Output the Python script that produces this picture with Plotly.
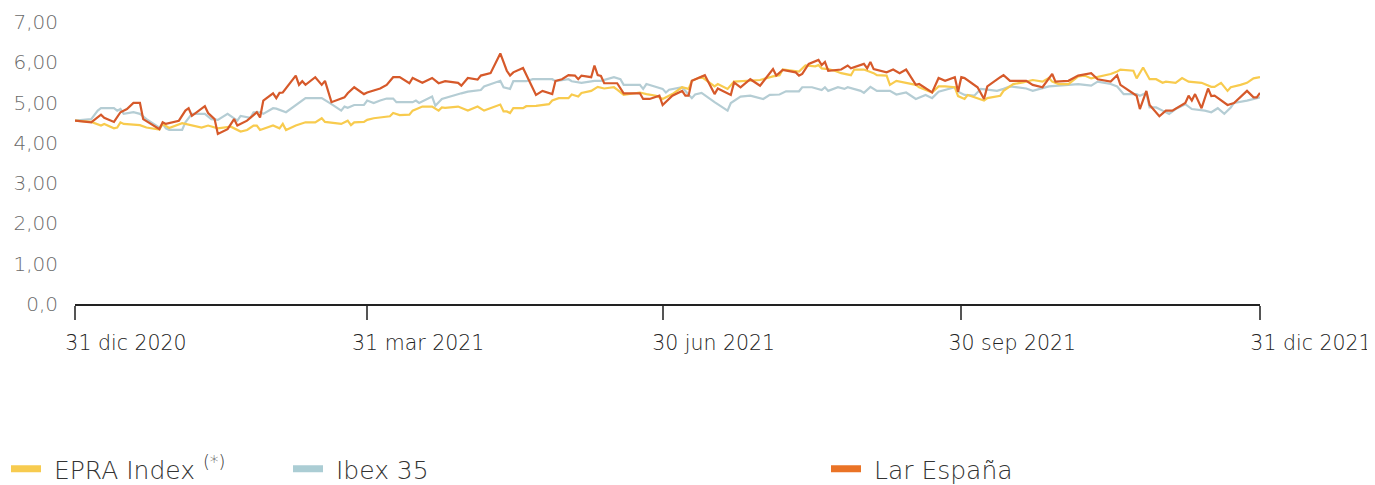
import pandas as pd
import plotly.graph_objects as go

BASE = "2020-12-31"

# Lar España (days since 31 dic 2020, value)
lar_days = [0, 5, 8, 9, 12, 14, 16, 18, 20, 21, 26, 27, 28, 32, 34, 35, 36, 40, 41, 43, 44, 47, 49, 50, 53, 56, 57, 58, 61, 62, 63, 64, 68, 69, 70, 71, 74, 76, 77, 79, 83, 84, 86, 89, 90, 94, 96, 98, 100, 103, 104, 107, 110, 112, 114, 118, 119, 121, 124, 125, 128, 131, 133, 134, 135, 138, 142, 144, 147, 148, 150, 152, 154, 155, 156, 159, 160, 161, 162, 163, 167, 169, 174, 175, 177, 180, 181, 184, 187, 188, 189, 190, 194, 197, 198, 202, 203, 205, 208, 211, 215, 216, 218, 222, 223, 224, 226, 229, 230, 231, 232, 236, 238, 239, 243, 244, 245, 246, 250, 252, 254, 256, 259, 260, 264, 266, 268, 271, 272, 273, 274, 278, 280, 281, 285, 286, 288, 293, 295, 298, 301, 302, 306, 309, 313, 315, 319, 321, 322, 327, 328, 330, 331, 334, 336, 338, 342, 343, 344, 345, 347, 349, 350, 351, 355, 357, 361, 363, 364, 365]
lar_vals = [4.55, 4.51, 4.70, 4.62, 4.52, 4.76, 4.84, 4.99, 4.99, 4.59, 4.34, 4.51, 4.47, 4.55, 4.80, 4.86, 4.67, 4.91, 4.74, 4.59, 4.22, 4.34, 4.59, 4.43, 4.55, 4.76, 4.63, 5.05, 5.23, 5.11, 5.24, 5.25, 5.67, 5.44, 5.53, 5.44, 5.63, 5.44, 5.54, 5.01, 5.13, 5.23, 5.38, 5.21, 5.25, 5.35, 5.44, 5.63, 5.63, 5.48, 5.61, 5.49, 5.61, 5.48, 5.53, 5.49, 5.42, 5.61, 5.57, 5.67, 5.73, 6.22, 5.79, 5.67, 5.75, 5.86, 5.19, 5.29, 5.21, 5.54, 5.58, 5.68, 5.67, 5.58, 5.67, 5.63, 5.92, 5.68, 5.66, 5.48, 5.48, 5.23, 5.23, 5.09, 5.09, 5.17, 4.94, 5.17, 5.29, 5.17, 5.17, 5.54, 5.68, 5.21, 5.35, 5.19, 5.50, 5.38, 5.58, 5.42, 5.83, 5.67, 5.81, 5.75, 5.67, 5.71, 5.96, 6.06, 5.93, 6.01, 5.79, 5.82, 5.92, 5.85, 5.96, 5.85, 6.01, 5.83, 5.75, 5.82, 5.73, 5.82, 5.44, 5.46, 5.25, 5.61, 5.54, 5.63, 5.27, 5.63, 5.61, 5.38, 5.09, 5.40, 5.63, 5.68, 5.54, 5.54, 5.44, 5.38, 5.71, 5.52, 5.54, 5.67, 5.73, 5.58, 5.52, 5.68, 5.44, 5.17, 4.84, 5.29, 4.94, 4.66, 4.80, 4.80, 4.99, 5.17, 5.05, 5.21, 4.86, 5.35, 5.16, 5.17, 4.94, 4.99, 5.29, 5.13, 5.13, 5.24]

# EPRA Index
epra_days = [0, 5, 8, 9, 12, 13, 14, 15, 20, 22, 26, 27, 29, 33, 39, 41, 44, 48, 51, 53, 55, 56, 57, 61, 63, 64, 65, 68, 71, 74, 76, 77, 82, 84, 85, 86, 89, 90, 92, 97, 98, 100, 103, 104, 107, 110, 112, 113, 114, 118, 121, 124, 126, 131, 132, 133, 134, 135, 138, 139, 142, 146, 147, 149, 152, 153, 155, 156, 159, 161, 163, 166, 167, 169, 174, 176, 179, 181, 184, 187, 189, 190, 193, 197, 198, 201, 203, 207, 211, 215, 217, 218, 221, 223, 225, 228, 229, 230, 232, 234, 236, 239, 240, 243, 246, 247, 250, 251, 253, 256, 259, 260, 264, 266, 268, 271, 272, 274, 275, 280, 281, 285, 286, 289, 292, 295, 298, 300, 301, 303, 306, 309, 311, 313, 316, 319, 321, 322, 326, 327, 329, 331, 333, 335, 336, 339, 341, 343, 347, 350, 351, 353, 355, 356, 359, 361, 363, 365]
epra_vals = [4.55, 4.52, 4.43, 4.47, 4.36, 4.38, 4.51, 4.47, 4.44, 4.38, 4.33, 4.47, 4.37, 4.49, 4.38, 4.43, 4.36, 4.40, 4.28, 4.32, 4.43, 4.43, 4.32, 4.43, 4.36, 4.47, 4.32, 4.43, 4.51, 4.51, 4.61, 4.52, 4.47, 4.55, 4.44, 4.51, 4.52, 4.57, 4.61, 4.66, 4.74, 4.69, 4.70, 4.80, 4.90, 4.90, 4.80, 4.88, 4.87, 4.90, 4.80, 4.90, 4.80, 4.95, 4.78, 4.78, 4.74, 4.86, 4.86, 4.91, 4.92, 4.96, 5.05, 5.11, 5.11, 5.20, 5.15, 5.24, 5.29, 5.39, 5.35, 5.38, 5.32, 5.19, 5.25, 5.21, 5.17, 5.09, 5.21, 5.38, 5.34, 5.54, 5.64, 5.40, 5.46, 5.34, 5.52, 5.54, 5.56, 5.65, 5.68, 5.82, 5.79, 5.77, 5.92, 5.90, 5.93, 5.85, 5.83, 5.79, 5.73, 5.68, 5.82, 5.82, 5.73, 5.68, 5.67, 5.44, 5.54, 5.49, 5.44, 5.38, 5.25, 5.40, 5.40, 5.38, 5.16, 5.09, 5.19, 5.05, 5.11, 5.17, 5.29, 5.46, 5.50, 5.56, 5.52, 5.61, 5.52, 5.46, 5.46, 5.65, 5.67, 5.60, 5.65, 5.71, 5.77, 5.82, 5.79, 5.60, 5.87, 5.58, 5.58, 5.49, 5.52, 5.49, 5.61, 5.52, 5.49, 5.39, 5.39, 5.49, 5.29, 5.38, 5.44, 5.49, 5.60, 5.63]

# Ibex 35
ibex_days = [0, 5, 7, 8, 12, 13, 14, 15, 18, 20, 22, 26, 27, 28, 29, 33, 34, 36, 40, 42, 44, 47, 49, 50, 51, 54, 55, 57, 58, 61, 62, 65, 71, 76, 79, 82, 83, 84, 86, 89, 90, 92, 94, 96, 98, 99, 104, 105, 106, 110, 111, 113, 119, 121, 125, 126, 131, 132, 134, 135, 139, 141, 147, 148, 152, 153, 156, 160, 162, 166, 168, 169, 174, 175, 176, 181, 182, 183, 187, 190, 191, 193, 197, 201, 202, 205, 208, 212, 214, 217, 219, 223, 224, 227, 230, 231, 232, 235, 237, 238, 242, 243, 245, 247, 251, 253, 256, 259, 262, 264, 266, 271, 272, 274, 277, 279, 281, 284, 286, 288, 293, 295, 300, 306, 309, 313, 315, 319, 321, 323, 327, 328, 330, 331, 333, 335, 337, 339, 342, 344, 348, 350, 352, 354, 356, 357, 361, 365]
ibex_vals = [4.55, 4.59, 4.80, 4.86, 4.86, 4.80, 4.84, 4.72, 4.76, 4.72, 4.59, 4.38, 4.47, 4.36, 4.32, 4.32, 4.51, 4.72, 4.72, 4.59, 4.57, 4.72, 4.61, 4.55, 4.67, 4.62, 4.76, 4.76, 4.72, 4.86, 4.85, 4.76, 5.11, 5.11, 4.96, 4.80, 4.90, 4.87, 4.94, 4.94, 5.05, 4.99, 5.05, 5.10, 5.10, 5.01, 5.01, 5.05, 4.99, 5.15, 4.92, 5.09, 5.23, 5.27, 5.31, 5.40, 5.54, 5.38, 5.34, 5.53, 5.53, 5.58, 5.58, 5.53, 5.58, 5.53, 5.49, 5.54, 5.54, 5.63, 5.58, 5.44, 5.44, 5.34, 5.46, 5.34, 5.25, 5.32, 5.38, 5.11, 5.20, 5.24, 5.01, 4.80, 4.99, 5.15, 5.17, 5.09, 5.19, 5.20, 5.28, 5.28, 5.38, 5.38, 5.31, 5.38, 5.29, 5.38, 5.34, 5.38, 5.29, 5.24, 5.39, 5.29, 5.29, 5.20, 5.25, 5.09, 5.19, 5.11, 5.27, 5.38, 5.27, 5.19, 5.17, 5.34, 5.32, 5.29, 5.34, 5.40, 5.35, 5.29, 5.40, 5.44, 5.46, 5.42, 5.52, 5.46, 5.40, 5.21, 5.21, 5.17, 5.24, 4.88, 4.88, 4.80, 4.72, 4.84, 4.96, 4.84, 4.80, 4.76, 4.86, 4.72, 4.88, 4.99, 5.05, 5.13]

y_tickvals = [0, 1, 2, 3, 4, 5, 6, 7]
y_ticktext = ["0,0", "1,00", "2,00", "3,00", "4,00", "5,00", "6,00", "7,00"]
x_tickvals = ["2020-12-31", "2021-03-31", "2021-06-30", "2021-09-30", "2021-12-31"]
x_ticktext = ["31 dic 2020", "31 mar 2021", "30 jun 2021", "30 sep 2021", "31 dic 2021"]

names = [" EPRA Index <sup>(*)</sup>", " Ibex 35", " Lar España"]
line_colors = ["#F8CB4E", "#B5CDD4", "#D6592A"]
legend_colors = ["#F7CB4F", "#ABCDD4", "#EA7326"]


def to_dates(days):
    return pd.Timestamp(BASE) + pd.to_timedelta(days, unit="D")


FONT = "DejaVu Sans"
fig = go.Figure()
series = [(epra_days, epra_vals), (ibex_days, ibex_vals), (lar_days, lar_vals)]
draw_order = [1, 0, 2]
for i in draw_order:
    d, v = series[i]
    fig.add_trace(go.Scatter(x=to_dates(d), y=v, mode="lines", showlegend=False,
                             line=dict(color=line_colors[i], width=2.2), hoverinfo="skip"))

legend_keys = ["legend", "legend2", "legend3"]
for i in range(3):
    fig.add_trace(go.Scatter(x=[None], y=[None], mode="lines", name=names[i],
                             line=dict(color=legend_colors[i], width=7),
                             legend=legend_keys[i], showlegend=True))

# page body has an 8px margin; figure coordinates below are page coords minus offsets
OX, OY = 8, 9
W, H = 1375 - OX, 485 - OX
PL, PR, PT, PB = 75 - OX, 1260 - OX, 23 - OY, 305 - OY
pw, ph = PR - PL, PB - PT


def lx(px_page):
    return (px_page - OX - PL) / pw


def ly(py_page):
    return (PB - (py_page - OY)) / ph


leg_common = dict(font=dict(family=FONT, size=25, color="#333333", weight=300),
                  bgcolor="rgba(0,0,0,0)",
                  xanchor="left", yanchor="middle", orientation="h", itemwidth=30)
fig.update_layout(
    width=W, height=H,
    margin=dict(l=PL, r=W - PR, t=PT, b=H - PB, autoexpand=False),
    paper_bgcolor="white", plot_bgcolor="white",
    font=dict(family=FONT),
    legend=dict(x=lx(6), y=ly(470), **leg_common),
    legend2=dict(x=lx(288), y=ly(470), **leg_common),
    legend3=dict(x=lx(826), y=ly(470), **leg_common),
    xaxis=dict(
        type="date", range=["2020-12-31", "2021-12-31"],
        tickvals=x_tickvals, ticktext=x_ticktext,
        showgrid=False, zeroline=False, automargin=False,
        showline=True, linecolor="#222", linewidth=1.5,
        ticks="outside", ticklen=14, tickcolor="#555", tickwidth=1.5,
        tickfont=dict(family=FONT, size=20.5, color="#222", weight=300),
        ticklabelshift=51, ticklabeloverflow="allow",
        ticklabelstandoff=6,
    ),
    yaxis=dict(
        range=[0, 7], tickvals=y_tickvals, ticktext=y_ticktext,
        showgrid=False, zeroline=False, showline=False, automargin=False,
        tickfont=dict(family=FONT, size=20, color="#6a6a6a", weight=300),
        ticklabelstandoff=16,
    ),
)

fig.write_html("out.html")
